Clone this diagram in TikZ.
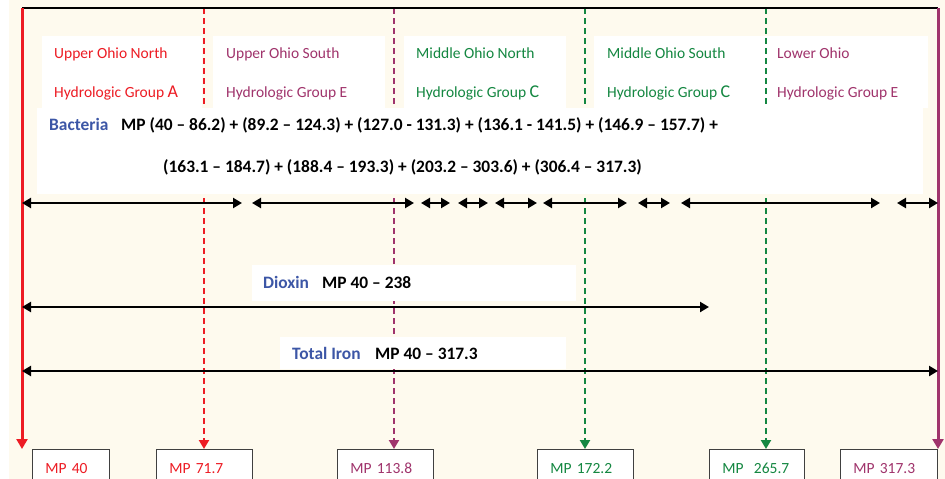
\documentclass[tikz,border=0pt]{standalone}
\usepackage{fontspec}
\setmainfont{Carlito}
\usetikzlibrary{arrows.meta}
\definecolor{ohred}{RGB}{237,28,36}
\definecolor{ohpurple}{RGB}{160,52,108}
\definecolor{ohgreen}{RGB}{20,135,65}
\definecolor{ohblue}{RGB}{60,86,166}
\definecolor{cream}{RGB}{254,250,238}
\newcommand{\grp}[1]{{\fontsize{18}{18}\selectfont #1}}
\begin{document}
\begin{tikzpicture}[x=1pt,y=-1pt,
    reach/.style={font=\fontsize{15.5}{18}\selectfont,anchor=base west,inner sep=0},
    param/.style={font=\fontsize{17.4}{20}\selectfont\bfseries,anchor=base west,inner sep=0},
    span/.style={{Triangle[length=9pt,width=10pt]}-{Triangle[length=9pt,width=10pt]},line width=2.3pt},
    divider/.style={line width=2.2pt,dash pattern=on 6pt off 4pt,-{Triangle[length=9pt,width=10pt]}},
    border/.style={line width=3pt,-{Triangle[length=10pt,width=11pt]}},
    mile/.style={draw=black!75,line width=0.8pt,fill=white,anchor=north west,minimum height=38pt,
      inner xsep=13pt,inner ysep=0pt,text height=10pt,text depth=0pt,align=left,
      font=\fontsize{15.5}{18}\selectfont},
  ]
  \useasboundingbox (0,0) rectangle (945,479);
  \fill[cream] (9,0) rectangle (945,479);
  % river reaches
  \fill[white] (42,36) rectangle (202,108);
  \fill[white] (213,36) rectangle (385,108);
  \fill[white] (404,36) rectangle (566,108);
  \fill[white] (594,36) rectangle (928,108);
  % mile posts
  \node[mile,text width=51pt,text=ohred] (mp40) at (32,449) {MP 40};
  \node[mile,text width=70pt,text=ohred] (mp71) at (156,449) {MP 71.7};
  \node[mile,text width=70pt,text=ohpurple] (mp113) at (337,449) {MP 113.8};
  \node[mile,text width=70pt,text=ohgreen] (mp172) at (537,449) {MP 172.2};
  \node[mile,text width=69pt,text=ohgreen] (mp265) at (709,449) {MP\ \ 265.7};
  \node[mile,text width=71pt,text=ohpurple] (mp317) at (840,449) {MP 317.3};
  \coordinate (top west) at (22,8);
  \coordinate (top east) at (938,8);
  \coordinate (cut71) at (204,8);
  \coordinate (cut113) at (394,8);
  \coordinate (cut172) at (585,8);
  \coordinate (cut265) at (766,8);
  \draw[divider,ohred] (cut71) -- (cut71 |- mp71.north);
  \draw[divider,ohpurple] (cut113) -- (cut113 |- mp113.north);
  \draw[divider,ohgreen] (cut172) -- (cut172 |- mp172.north);
  \draw[divider,ohgreen] (cut265) -- (cut265 |- mp265.north);
  \draw[line width=2.3pt] (top west) -- (top east);
  \draw[border,ohred] (top west) -- (top west |- mp40.north);
  \draw[border,ohpurple] (top east) -- (top east |- mp317.north);
  \node[reach,text=ohred] (uon) at (54,58) {Upper Ohio North};
  \node[reach,text=ohred] (uon group) at (54,97) {Hydrologic Group \grp{A}};
  \node[reach,text=ohpurple] (uos) at (226,58) {Upper Ohio South};
  \node[reach,text=ohpurple] (uos group) at (226,97) {Hydrologic Group E};
  \node[reach,text=ohgreen] (mon) at (416,58) {Middle Ohio North};
  \node[reach,text=ohgreen] (mon group) at (416,97) {Hydrologic Group \grp{C}};
  \node[reach,text=ohgreen] (mos) at (607,58) {Middle Ohio South};
  \node[reach,text=ohgreen] (mos group) at (607,97) {Hydrologic Group \grp{C}};
  \node[reach,text=ohpurple] (lo) at (777,58) {Lower Ohio};
  \node[reach,text=ohpurple] (lo group) at (777,97) {Hydrologic Group E};
  % impairments
  \fill[white] (37,108) rectangle (923,194);
  \fill[white] (252,265) rectangle (576,301);
  \fill[white] (280,337) rectangle (566,369);
  \node[param,text=ohblue] (bacteria) at (49,130) {Bacteria};
  \node[param] (bacteria mp) at (121,130) {MP (40 – 86.2) + (89.2 – 124.3) + (127.0 - 131.3) + (136.1 - 141.5) + (146.9 – 157.7) +};
  \node[param] (bacteria mp2) at (163,172) {(163.1 – 184.7) + (188.4 – 193.3) + (203.2 – 303.6) + (306.4 – 317.3)};
  \node[param,text=ohblue] (dioxin) at (263,288) {Dioxin};
  \node[param] (dioxin mp) at (322,288) {MP 40 – 238};
  \node[param,text=ohblue] (iron) at (292,359) {Total Iron};
  \node[param] (iron mp) at (375,359) {MP 40 – 317.3};
  \foreach \a/\b [count=\i] in {22/242,252/414,421/450,458/488,495/537,543/627,638/670,681/880,897/938}{
    \coordinate (bac\i a) at (\a,203);
    \coordinate (bac\i b) at (\b,203);
    \draw[span] (bac\i a) -- (bac\i b);
  }
  \coordinate (dioxin a) at (22,307);
  \coordinate (dioxin b) at (709,307);
  \draw[span] (dioxin a) -- (dioxin b);
  \coordinate (iron a) at (22,371);
  \coordinate (iron b) at (938,371);
  \draw[span] (iron a) -- (iron b);
\end{tikzpicture}
\end{document}
